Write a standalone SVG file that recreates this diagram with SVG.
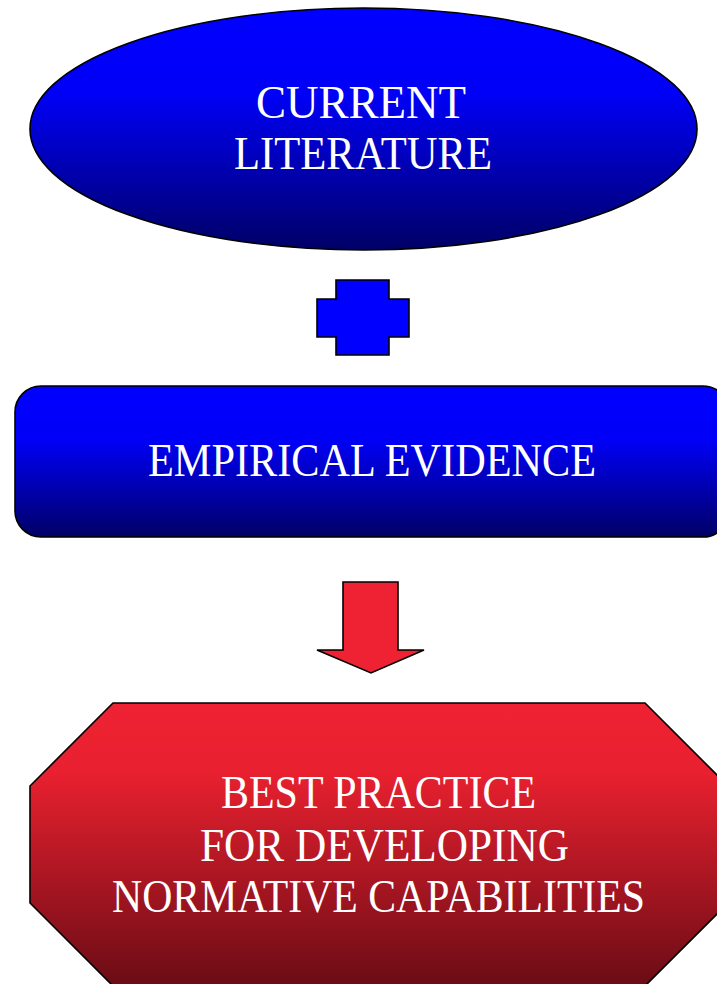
<svg xmlns="http://www.w3.org/2000/svg" width="717" height="984" viewBox="0 0 717 984">
<defs>
<linearGradient id="blue" x1="0" y1="0" x2="0" y2="1">
<stop offset="0" stop-color="#0000ff"/>
<stop offset="0.35" stop-color="#0000f8"/>
<stop offset="1" stop-color="#000066"/>
</linearGradient>
<linearGradient id="red" x1="0" y1="0" x2="0" y2="1">
<stop offset="0" stop-color="#ee2232"/>
<stop offset="0.25" stop-color="#e8202f"/>
<stop offset="1" stop-color="#6a0c15"/>
</linearGradient>
<style>
.shape{stroke:#000;stroke-width:1.6}
.lbl{font-family:"Liberation Serif",serif;font-size:46px;fill:#fff;text-anchor:middle}
</style>
</defs>
<g id="current-literature">
<ellipse class="shape" cx="363.5" cy="129" rx="333.5" ry="121" fill="url(#blue)"/>
<text class="lbl" x="361" y="118" textLength="210" lengthAdjust="spacingAndGlyphs">CURRENT</text>
<text class="lbl" x="363" y="169" textLength="258" lengthAdjust="spacingAndGlyphs">LITERATURE</text>
</g>
<g id="connectors">
<path id="plus" class="shape" fill="#0000ff" d="M336,280 H389 V299 H409 V337 H389 V355 H336 V337 H317 V299 H336 Z"/>
<path id="down-arrow" class="shape" fill="#ee2233" d="M343,582 H398 V650 H424 L371,673 L317,650 H343 Z"/>
</g>
<g id="empirical-evidence">
<rect class="shape" x="15" y="386" width="714" height="151" rx="26" ry="26" fill="url(#blue)"/>
<text class="lbl" x="372" y="476" textLength="448" lengthAdjust="spacingAndGlyphs">EMPIRICAL EVIDENCE</text>
</g>
<g id="best-practice">
<path class="shape" fill="url(#red)" d="M113,703 H645 L728,786 V903 L645,986 H113 L30,903 V786 Z"/>
<text class="lbl" x="378.5" y="808" textLength="315" lengthAdjust="spacingAndGlyphs">BEST PRACTICE</text>
<text class="lbl" x="384.5" y="861" textLength="369" lengthAdjust="spacingAndGlyphs">FOR DEVELOPING</text>
<text class="lbl" x="378.5" y="912" textLength="533" lengthAdjust="spacingAndGlyphs">NORMATIVE CAPABILITIES</text>
</g>
</svg>
